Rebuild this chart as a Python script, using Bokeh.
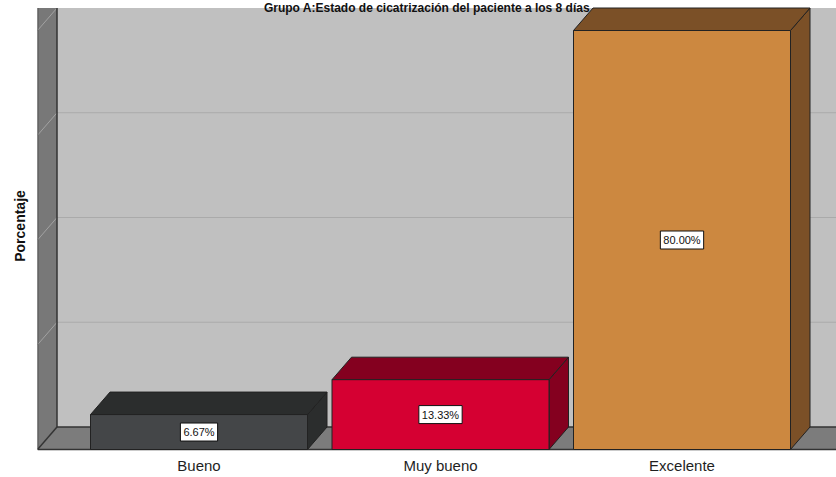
from bokeh.plotting import figure
from bokeh.models import Range1d, FixedTicker
from bokeh.core.properties import value
from bokeh.embed import file_html
from bokeh.resources import INLINE

# ---- data ----
categories = ["Bueno", "Muy bueno", "Excelente"]
percentages = [6.67, 13.33, 80.00]
value_labels = ["6.67%", "13.33%", "80.00%"]
grid_values = [20, 40, 60, 80]
axis_max = 80
title_text = "Grupo A:Estado de cicatrización del paciente a los 8 días"
y_label = "Porcentaje"

# ---- styles ----
front_colors = ["#444648", "#d50032", "#cc8840"]
dark_colors = ["#2b2d2d", "#84001f", "#7b5027"]
FONT = "Liberation Sans"

K = 5.2375          # pixels per percent
S = 241.5           # pixels per category
DX = 19.5 / S       # depth offset (x, category units)
DY = 22.5 / K       # depth offset (y, percent units)
HW = 108.5 / S      # half bar width
x_lo = (37 - 198.5) / S
x_hi = (836 - 198.5) / S
x_far = x_hi + 1

p = figure(width=836, height=477, output_backend="svg", toolbar_location=None,
           x_range=Range1d(x_lo, x_hi), y_range=Range1d(-2 / K, 449 / K),
           min_border_left=37, min_border_right=0, min_border_top=0,
           min_border_bottom=26)
p.outline_line_color = None
p.grid.visible = False
p.background_fill_color = "white"

# x axis with category labels
xs = list(range(len(categories)))
p.xaxis.ticker = FixedTicker(ticks=xs)
p.xaxis.major_label_overrides = {i: c for i, c in zip(xs, categories)}
p.xaxis.axis_line_color = None
p.xaxis.major_tick_line_color = None
p.xaxis.minor_tick_line_color = None
p.xaxis.major_tick_out = 0
p.xaxis.major_tick_in = 0
p.xaxis.major_label_standoff = 5
p.xaxis.major_label_text_font = FONT
p.xaxis.major_label_text_font_size = "15px"
p.xaxis.major_label_text_color = "#1f1f1f"

# y axis: label only
p.yaxis.ticker = FixedTicker(ticks=[])
p.yaxis.axis_label = y_label
p.yaxis.axis_label_text_font = FONT
p.yaxis.axis_label_text_font_style = "bold"
p.yaxis.axis_label_text_font_size = "14px"
p.yaxis.axis_label_text_color = "#111111"
p.yaxis.axis_line_color = None
p.yaxis.major_tick_out = 0
p.yaxis.major_tick_in = 0
p.yaxis.minor_tick_line_color = None
p.yaxis.major_label_standoff = 0
p.yaxis.axis_label_standoff = 10

EDGE = "#333333"

# back wall
p.quad(left=[x_lo + DX], right=[x_far], bottom=[DY], top=[axis_max + DY],
       fill_color="#c0c0c0", line_color=None)
inner = [g for g in grid_values if g < axis_max]
p.segment(x0=[x_lo + DX] * len(inner), y0=[g + DY for g in inner],
          x1=[x_far] * len(inner), y1=[g + DY for g in inner],
          line_color="#aaaaaa", line_width=1)

# floor
p.patch([x_lo, x_lo + DX, x_far, x_far], [0, DY, DY, 0],
        fill_color="#7c7c7c", line_color=None)
# left wall
p.patch([x_lo, x_lo + DX, x_lo + DX, x_lo], [0, DY, axis_max + DY, axis_max + DY],
        fill_color="#787878", line_color=None)
p.segment(x0=[x_lo] * len(grid_values), y0=grid_values,
          x1=[x_lo + DX] * len(grid_values), y1=[g + DY for g in grid_values],
          line_color="#a2a2a2", line_width=1)

# wall / floor edges
p.segment(x0=[x_lo, x_lo + DX, x_lo + DX, x_lo, x_lo],
          y0=[0, DY, DY, 0, 0],
          x1=[x_far, x_far, x_lo + DX, x_lo + DX, x_lo],
          y1=[0, DY, axis_max + DY, DY, axis_max + DY],
          line_color=EDGE, line_width=1.5)

# 3D bars
for i, v in enumerate(percentages):
    # right side
    p.patch([i + HW, i + HW + DX, i + HW + DX, i + HW], [0, DY, v + DY, v],
            fill_color=dark_colors[i], line_color="#222222", line_width=1)
    # top
    p.patch([i - HW, i - HW + DX, i + HW + DX, i + HW], [v, v + DY, v + DY, v],
            fill_color=dark_colors[i], line_color="#222222", line_width=1)
    # front
    p.quad(left=[i - HW], right=[i + HW], bottom=[0], top=[v],
           fill_color=front_colors[i], line_color="#222222", line_width=1)

# value labels
p.text(x=xs, y=[v / 2 for v in percentages], text=value_labels,
       text_align="center", text_baseline="middle",
       text_font=value(FONT), text_font_size="11px", text_color="#111111",
       background_fill_color="white", border_line_color="#111111",
       border_line_width=1, padding=3)

# title at the very top
p.text(x=[(426.5 - 198.5) / S], y=[449 / K], text=[title_text],
       text_align="center", text_baseline="top",
       text_font=value(FONT), text_font_style="bold", text_font_size="12px",
       text_color="#111111")

open("out.html", "w").write(file_html(p, INLINE))
